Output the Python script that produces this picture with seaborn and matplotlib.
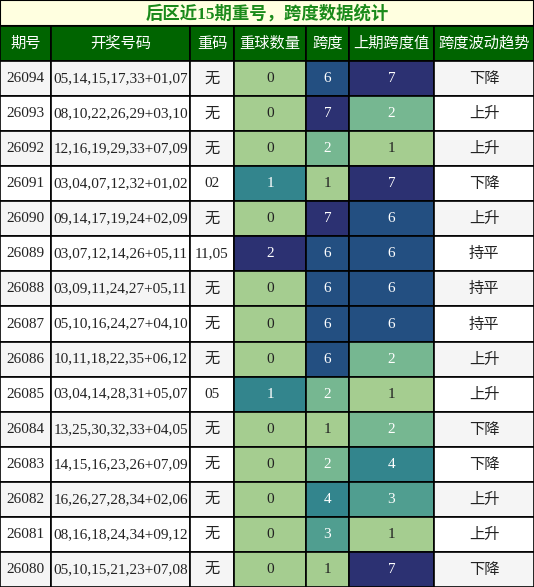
import matplotlib
matplotlib.use("Agg")
import matplotlib.pyplot as plt
import seaborn as sns
from matplotlib.patches import Rectangle
import matplotlib.colors as mcolors

title = "后区近15期重号，跨度数据统计"
headers = ["期号", "开奖号码", "重码", "重球数量", "跨度", "上期跨度值", "跨度波动趋势"]
issues = ["26094","26093","26092","26091","26090","26089","26088","26087","26086","26085","26084","26083","26082","26081","26080"]
draws = ["05,14,15,17,33+01,07","08,10,22,26,29+03,10","12,16,19,29,33+07,09","03,04,07,12,32+01,02",
         "09,14,17,19,24+02,09","03,07,12,14,26+05,11","03,09,11,24,27+05,11","05,10,16,24,27+04,10",
         "10,11,18,22,35+06,12","03,04,14,28,31+05,07","13,25,30,32,33+04,05","14,15,16,23,26+07,09",
         "16,26,27,28,34+02,06","08,16,18,24,34+09,12","05,10,15,21,23+07,08"]
repeats = ["无","无","无","02","无","11,05","无","无","无","05","无","无","无","无","无"]
rep_count = [0,0,0,1,0,2,0,0,0,1,0,0,0,0,0]
span = [6,7,2,1,7,6,6,6,6,2,1,2,4,3,1]
prev_span = [7,2,1,7,6,6,6,6,2,1,2,4,3,1,7]
trend = ["下降","上升","上升","下降","上升","持平","持平","持平","上升","上升","下降","下降","上升","上升","下降"]

W, H = 534, 587
xs = [0, 51, 190, 234, 306, 349, 434, 534]
title_h, head_b = 26, 61
rh = (H - head_b) / len(issues)

fam = ["Liberation Serif", "Noto Sans CJK SC", "DejaVu Sans"]
cjk = ["Noto Sans CJK SC", "DejaVu Sans"]
cmap = sns.color_palette("crest", as_cmap=True)

fig = plt.figure(figsize=(W/100, H/100), dpi=100)
ax = fig.add_axes([0, 0, 1, 1])
ax.set_xlim(0, W); ax.set_ylim(H, 0); ax.axis("off")

ax.add_patch(Rectangle((0, 0), W, title_h, facecolor="#ffffe0", edgecolor="black", lw=1.5))
ax.text(W/2, title_h/2 + 1, title, ha="center", va="center", fontsize=12.5, fontweight="bold",
        color="#1a8a1a", family=fam)
for i, h in enumerate(headers):
    ax.add_patch(Rectangle((xs[i], title_h), xs[i+1]-xs[i], head_b-title_h, facecolor="#006400",
                           edgecolor="black", lw=1.2))
    ax.text((xs[i]+xs[i+1])/2, (title_h+head_b)/2, h, ha="center", va="center", fontsize=11,
            color="white", family=cjk)

cols_num = {3: rep_count, 4: span, 5: prev_span}
norms = {k: mcolors.Normalize(min(v), max(v)) for k, v in cols_num.items()}
for r in range(len(issues)):
    y0 = head_b + r*rh
    bg = "#f5f5f5" if r % 2 == 0 else "white"
    vals = [issues[r], draws[r], repeats[r], rep_count[r], span[r], prev_span[r], trend[r]]
    for c, v in enumerate(vals):
        fc, tc = bg, "#222222"
        if c in cols_num:
            n = norms[c](v)
            fc = cmap(n)
            tc = "white" if n > 0.1 else "#222222"
        ax.add_patch(Rectangle((xs[c], y0), xs[c+1]-xs[c], rh, facecolor=fc, edgecolor="black", lw=1.2))
        ax.text((xs[c]+xs[c+1])/2, y0 + rh/2, str(v), ha="center", va="center",
                fontsize=11, color=tc, family=fam if c != 6 else cjk)

fig.savefig("out.png", dpi=100)
